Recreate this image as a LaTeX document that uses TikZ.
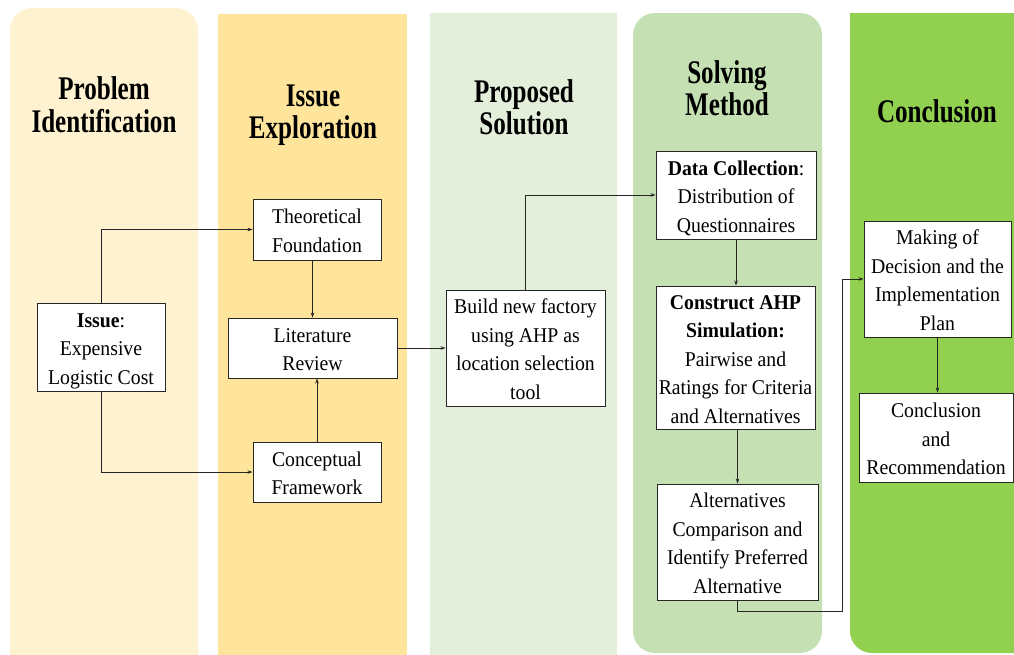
\documentclass[tikz,border=0pt]{standalone}
\usepackage{fontspec}
\setmainfont[FakeStretch=0.94]{Liberation Serif}
\newfontfamily\headfont[FakeStretch=0.76]{Liberation Serif}
\usetikzlibrary{arrows.meta}
\setlength{\tabcolsep}{1pt}

\definecolor{probcol}{HTML}{FEF2D0}
\definecolor{issuecol}{HTML}{FFE59C}
\definecolor{propcol}{HTML}{E3EFDA}
\definecolor{solvecol}{HTML}{C5E0B3}
\definecolor{conclcol}{HTML}{92D050}

\begin{document}
\begin{tikzpicture}[x=1pt, y=-1pt]
        \tikzstyle{box}=[rectangle, fill=white, draw=black!85, line width=0.9pt, inner sep=1pt, font=\fontsize{21}{28.5}\selectfont, text=black]
        \tikzstyle{title}=[inner sep=0pt, font=\headfont\bfseries\fontsize{33}{32}\selectfont, text=black]
        \tikzstyle{edge}=[black!85, line width=0.8pt, -{Stealth[length=5pt, width=3.5pt]}]

        \useasboundingbox (0,0) rectangle (1014,654);

        \fill[probcol, rounded corners=22pt] (10,8) rectangle (198,700);
        \fill[issuecol] (218,14) rectangle (407,700);
        \fill[propcol] (430,13) rectangle (617,700);
        \fill[solvecol, rounded corners=22pt] (633,13) rectangle (822,653);
        \fill[conclcol, rounded corners=22pt] (850,13) rectangle (1040,653);
        \fill[conclcol] (850,13) rectangle (900,80);

        \node[title] (tprob)  at (104,109) {\begin{tabular}{c} Problem  \\ Identification \end{tabular}};
        \node[title] (tissue) at (313,116) {\begin{tabular}{c} Issue    \\ Exploration    \end{tabular}};
        \node[title] (tprop)  at (524,112) {\begin{tabular}{c} Proposed \\ Solution       \end{tabular}};
        \node[title] (tsolve) at (727,93)  {\begin{tabular}{c} Solving  \\ Method         \end{tabular}};
        \node[title] (tconcl) at (937,111) {Conclusion};

        \node[box, minimum width=128, minimum height=88]  (issue)     at (101,347)   {\begin{tabular}{c} \textbf{Issue}: \\ Expensive \\ Logistic Cost \\[-6pt] \end{tabular}};
        \node[box, minimum width=128, minimum height=61]  (theory)    at (317,229.5) {\begin{tabular}{c} Theoretical \\ Foundation \\[-6pt] \end{tabular}};
        \node[box, minimum width=169, minimum height=60]  (litrev)    at (312.5,348) {\begin{tabular}{c} Literature \\ Review \\[-6pt] \end{tabular}};
        \node[box, minimum width=128, minimum height=60]  (concept)   at (317,472)   {\begin{tabular}{c} Conceptual \\ Framework \\[-6pt] \end{tabular}};
        \node[box, minimum width=159, minimum height=116] (build)     at (525.5,348) {\begin{tabular}{c} Build new factory \\ using AHP as \\ location selection \\ tool \\[-6pt] \end{tabular}};
        \node[box, minimum width=160, minimum height=88]  (datacol)   at (736,195)   {\begin{tabular}{c} \textbf{Data Collection}: \\ Distribution of \\ Questionnaires \\[-6pt] \end{tabular}};
        \node[box, minimum width=159, minimum height=143] (construct) at (735.5,357.5) {\begin{tabular}{c} \textbf{Construct AHP} \\ \textbf{Simulation:} \\ Pairwise and \\ Ratings for Criteria \\ and Alternatives \\[-6pt] \end{tabular}};
        \node[box, minimum width=161, minimum height=116] (altern)    at (737.5,542) {\begin{tabular}{c} Alternatives \\ Comparison and \\ Identify Preferred \\ Alternative \\[-6pt] \end{tabular}};
        \node[box, minimum width=147, minimum height=116] (making)    at (937.5,279) {\begin{tabular}{c} Making of \\ Decision and the \\ Implementation \\ Plan \\[-6pt] \end{tabular}};
        \node[box, minimum width=154, minimum height=89]  (conclu)    at (936,437.5) {\begin{tabular}{c} Conclusion \\ and \\ Recommendation \\[-6pt] \end{tabular}};

        \coordinate (turn) at (842,611);

        \draw[edge] (issue.north) |- (theory.west);
        \draw[edge] (issue.south) |- (concept.west);
        \draw[edge] (theory.south -| litrev.north) -- (litrev.north);
        \draw[edge] (concept.north) -- (concept.north |- litrev.south);
        \draw[edge] (litrev.east) -- (build.west);
        \draw[edge] (build.north) |- (datacol.west);
        \draw[edge] (datacol.south) -- (datacol.south |- construct.north);
        \draw[edge] (construct.south -| altern.north) -- (altern.north);
        \draw[edge] (altern.south) |- (turn) |- (making.west);
        \draw[edge] (making.south) -- (making.south |- conclu.north);
    \end{tikzpicture}
\end{document}
